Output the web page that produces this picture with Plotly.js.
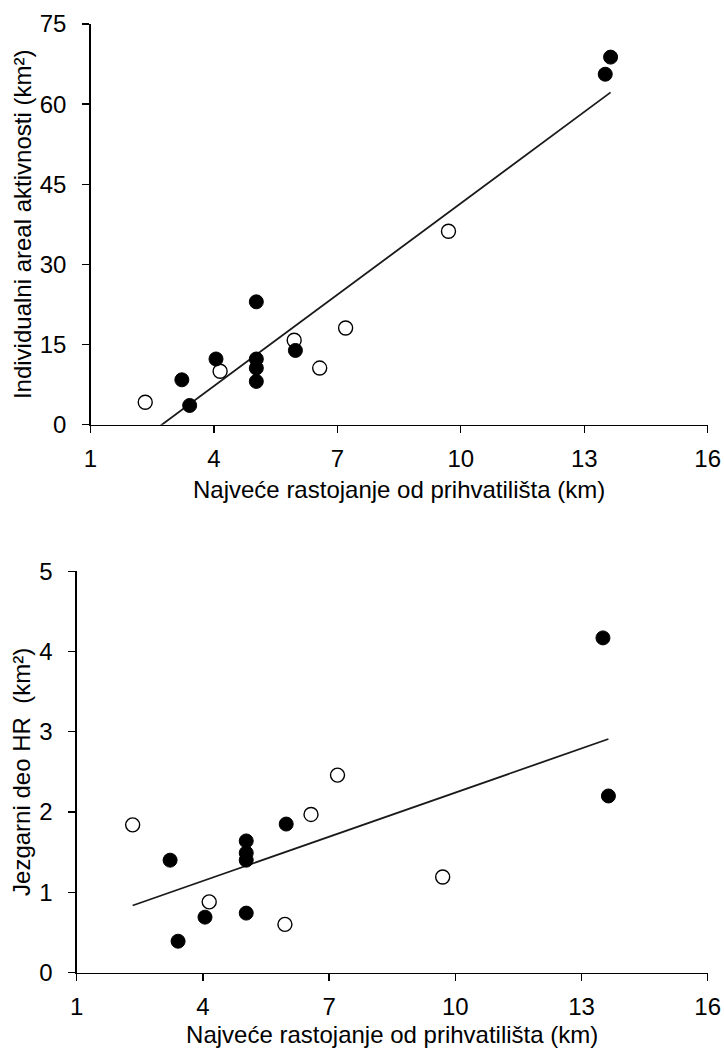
<!DOCTYPE html>
<html>
<head>
<meta charset="utf-8">
<script src="https://cdn.plot.ly/plotly-3.0.1.min.js"></script>
<style>html,body{margin:0;padding:0;background:#fff;}#chart{width:724px;height:1048px;}</style>
</head>
<body>
<div id="chart"></div>
<script>
// Shared x values (km): open = one group, filled = other group
var openX   = [2.33, 4.15, 5.95, 6.57, 7.20, 9.70];
var filledX = [3.22, 3.41, 4.05, 5.03, 5.03, 5.03, 5.03, 5.98, 13.51, 13.64];

// Top chart: Individualni areal aktivnosti (km²)
var topOpenY   = [4.2, 10.0, 15.8, 10.6, 18.1, 36.2];
var topFilledY = [8.4, 3.6, 12.3, 23.0, 12.3, 10.6, 8.1, 13.9, 65.6, 68.8];
var topTrendX  = [2.33, 13.64];
var topTrendY  = [-2.3, 62.2];

// Bottom chart: Jezgarni deo HR (km²)
var botOpenY   = [1.84, 0.88, 0.60, 1.97, 2.46, 1.19];
var botFilledY = [1.40, 0.39, 0.69, 1.64, 1.49, 1.40, 0.74, 1.85, 4.17, 2.20];
var botTrendX  = [2.33, 13.64];
var botTrendY  = [0.835, 2.91];

var xTicks = [1, 4, 7, 10, 13, 16];
var topYTicks = [0, 15, 30, 45, 60, 75];
var botYTicks = [0, 1, 2, 3, 4, 5];

var xTitle = "Najveće rastojanje od prihvatilišta (km)";
var topYTitle = "Individualni areal aktivnosti (km²)";
var botYTitle = "Jezgarni deo HR\u00a0 (km²)";

var FONT = "Liberation Sans, Arial, sans-serif";
var openMarker = {symbol: "circle", size: 14, color: "#ffffff", line: {color: "#000000", width: 1.4}};
var filledMarker = {symbol: "circle", size: 14, color: "#000000", line: {color: "#000000", width: 1}};
var trendLine = {color: "#1a1a1a", width: 1.8};

var data = [
  {x: topTrendX, y: topTrendY, mode: "lines", line: trendLine, xaxis: "x", yaxis: "y", hoverinfo: "skip"},
  {x: openX, y: topOpenY, mode: "markers", marker: openMarker, xaxis: "x", yaxis: "y"},
  {x: filledX, y: topFilledY, mode: "markers", marker: filledMarker, xaxis: "x", yaxis: "y"},
  {x: botTrendX, y: botTrendY, mode: "lines", line: trendLine, xaxis: "x2", yaxis: "y2", hoverinfo: "skip"},
  {x: openX, y: botOpenY, mode: "markers", marker: openMarker, xaxis: "x2", yaxis: "y2"},
  {x: filledX, y: botFilledY, mode: "markers", marker: filledMarker, xaxis: "x2", yaxis: "y2"}
];

function xAxis(domain, anchor) {
  return {
    domain: domain, anchor: anchor, range: [1, 16],
    tickmode: "array", tickvals: xTicks, ticktext: xTicks.map(String),
    ticks: "outside", ticklen: 7, tickwidth: 1.3, tickcolor: "#000",
    ticklabelstandoff: 5,
    showline: true, linecolor: "#000", linewidth: 1.3,
    showgrid: false, zeroline: false,
    tickfont: {family: FONT, size: 24, color: "#000"},
    title: {text: xTitle, font: {family: FONT, size: 24, color: "#000"}, standoff: 10}
  };
}
function yAxis(domain, anchor, range, ticks, title) {
  return {
    domain: domain, anchor: anchor, range: range,
    tickmode: "array", tickvals: ticks, ticktext: ticks.map(String),
    ticks: "outside", ticklen: 7, tickwidth: 1.3, tickcolor: "#000",
    ticklabelstandoff: 11,
    showline: true, linecolor: "#000", linewidth: 1.3,
    showgrid: false, zeroline: false,
    tickfont: {family: FONT, size: 24, color: "#000"},
    title: {text: title, font: {family: FONT, size: 24, color: "#000"}, standoff: 1}
  };
}

var layout = {
  width: 724, height: 1048,
  margin: {l: 0, r: 0, t: 0, b: 0},
  paper_bgcolor: "#ffffff", plot_bgcolor: "#ffffff",
  showlegend: false,
  xaxis: xAxis([90.5/724, 707.7/724], "y"),
  yaxis: yAxis([1 - 424.7/1048, 1 - 24/1048], "x", [0, 75], topYTicks, topYTitle),
  xaxis2: xAxis([76.7/724, 707.7/724], "y2"),
  yaxis2: yAxis([1 - 972.5/1048, 1 - 571.3/1048], "x2", [0, 5], botYTicks, botYTitle)
};

Plotly.newPlot("chart", data, layout, {staticPlot: true, displayModeBar: false});
</script>
</body>
</html>
